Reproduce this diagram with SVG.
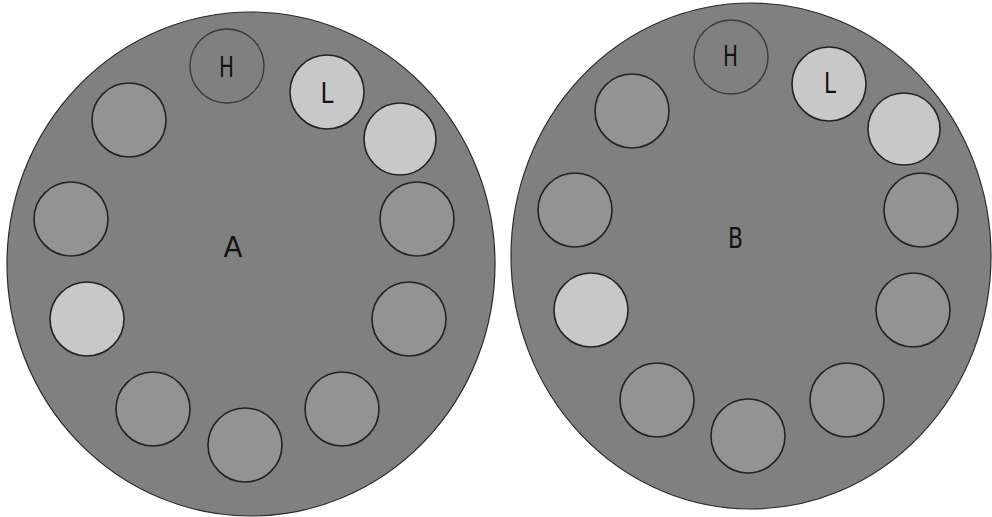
<svg xmlns="http://www.w3.org/2000/svg" width="992" height="517" viewBox="0 0 992 517">
<style>
.plate{fill:#808080;stroke:#2a2a2a;stroke-width:1.2}
.w{stroke:#222;stroke-width:1.6}
.g{fill:#939393}
.l{fill:#c8c8c8}
.h{fill:#808080;stroke:#3a3a3a;stroke-width:1.4}
.t{font-family:"DejaVu Sans",sans-serif;font-size:28px;fill:#111;text-anchor:middle}
</style>
<rect width="992" height="517" fill="#fff"/>
<g id="plateA">
<ellipse class="plate" cx="251" cy="264" rx="244" ry="252"/>
<text class="t" x="233" y="257" textLength="19" lengthAdjust="spacingAndGlyphs">A</text>
</g>
<g id="A-H"><circle class="h" cx="227" cy="66" r="37"/><text class="t" x="226.5" y="77" textLength="15" lengthAdjust="spacingAndGlyphs">H</text></g>
<g id="A-L"><circle class="w l" cx="327" cy="92" r="37"/><text class="t" x="327" y="103" textLength="13" lengthAdjust="spacingAndGlyphs">L</text></g>
<g id="A-1"><circle class="w g" cx="129" cy="120" r="37"/></g>
<g id="A-2"><circle class="w l" cx="400" cy="139" r="36"/></g>
<g id="A-3"><circle class="w g" cx="71" cy="219" r="37"/></g>
<g id="A-4"><circle class="w g" cx="417" cy="219" r="37"/></g>
<g id="A-5"><circle class="w l" cx="87" cy="319" r="37"/></g>
<g id="A-6"><circle class="w g" cx="409" cy="319" r="37"/></g>
<g id="A-7"><circle class="w g" cx="153" cy="409" r="37"/></g>
<g id="A-8"><circle class="w g" cx="245" cy="445" r="37"/></g>
<g id="A-9"><circle class="w g" cx="342" cy="409" r="37"/></g>
<g id="plateB">
<ellipse class="plate" cx="751" cy="256" rx="240" ry="253"/>
<text class="t" x="735.5" y="248" textLength="15" lengthAdjust="spacingAndGlyphs">B</text>
</g>
<g id="B-H"><circle class="h" cx="731" cy="57" r="37"/><text class="t" x="730.5" y="66" textLength="15" lengthAdjust="spacingAndGlyphs">H</text></g>
<g id="B-L"><circle class="w l" cx="829" cy="84" r="37"/><text class="t" x="830" y="93" textLength="12" lengthAdjust="spacingAndGlyphs">L</text></g>
<g id="B-1"><circle class="w g" cx="632" cy="111" r="37"/></g>
<g id="B-2"><circle class="w l" cx="904" cy="129" r="36"/></g>
<g id="B-3"><circle class="w g" cx="575" cy="210" r="37"/></g>
<g id="B-4"><circle class="w g" cx="921" cy="210" r="37"/></g>
<g id="B-5"><circle class="w l" cx="591" cy="310" r="37"/></g>
<g id="B-6"><circle class="w g" cx="913" cy="310" r="37"/></g>
<g id="B-7"><circle class="w g" cx="657" cy="400" r="37"/></g>
<g id="B-8"><circle class="w g" cx="748" cy="436" r="37"/></g>
<g id="B-9"><circle class="w g" cx="847" cy="400" r="37"/></g>
</svg>
